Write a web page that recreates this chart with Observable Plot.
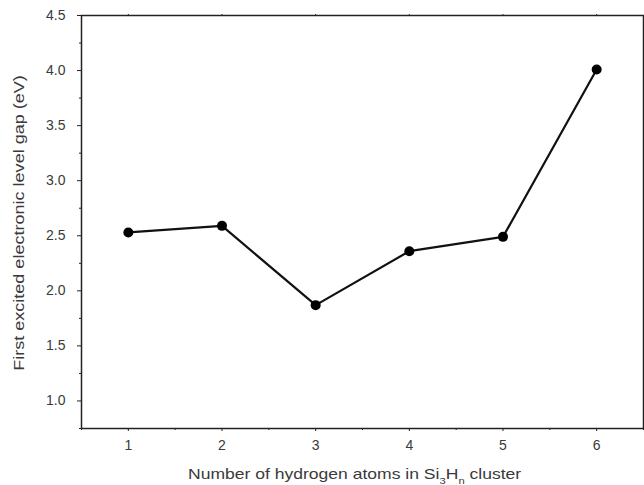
<!DOCTYPE html>
<html><head><meta charset="utf-8">
<script src="https://cdn.jsdelivr.net/npm/d3@7"></script>
<script src="https://cdn.jsdelivr.net/npm/@observablehq/plot@0.6"></script>
<style>
body{margin:0;background:#fff;}
svg{font-family:"Liberation Sans",Arial,Helvetica,sans-serif;}
</style></head>
<body><div id="chart"></div>
<script>
const hydrogen = [1, 2, 3, 4, 5, 6];
const gap = [2.53, 2.59, 1.87, 2.36, 2.49, 4.01];
const yTicks = [1.0, 1.5, 2.0, 2.5, 3.0, 3.5, 4.0, 4.5];
const yMinor = [0.75, 1.25, 1.75, 2.25, 2.75, 3.25, 3.75, 4.25];
const xTicks = [1, 2, 3, 4, 5, 6];
const xMinor = [0.5, 1.5, 2.5, 3.5, 4.5, 5.5, 6.5];
const yLabel = "First excited electronic level gap (eV)";

const data = hydrogen.map((h, i) => ({h, g: gap[i]}));
const ink = "#222";
const txt = "#3a3a3a";

const plot = Plot.plot({
  width: 644, height: 485,
  marginLeft: 81, marginTop: 15, marginRight: 1, marginBottom: 57,
  style: {fontSize: "14px", color: txt, background: "#fff"},
  x: {domain: [0.5, 6.5]},
  y: {domain: [0.75, 4.5]},
  marks: [
    Plot.axisX({ticks: xTicks, tickSize: 3, tickPadding: 9, tickFormat: d => String(d), label: null, stroke: ink, fill: txt}),
    Plot.axisX({ticks: xMinor, tickSize: 2, text: null, label: null, stroke: ink}),
    Plot.axisX({anchor: "top", ticks: xTicks, tickSize: 2, text: null, label: null, stroke: ink}),
    Plot.axisY({ticks: yTicks, tickSize: 4, tickPadding: 12, tickFormat: d => d.toFixed(1), label: null, stroke: ink, fill: txt}),
    Plot.axisY({ticks: yMinor, tickSize: 2, text: null, label: null, stroke: ink}),
    Plot.frame({stroke: ink, strokeWidth: 1.5}),
    Plot.line(data, {x: "h", y: "g", stroke: "#111", strokeWidth: 2.2}),
    Plot.dot(data, {x: "h", y: "g", r: 5, fill: "#000", stroke: "none"})
  ]
});

document.getElementById("chart").append(plot);
const svg = d3.select(plot);

// y-axis label (stretched along its length like the scan)
const yl = svg.append("text")
  .attr("text-anchor", "middle")
  .attr("fill", txt)
  .attr("font-size", 14)
  .text(yLabel);
const yw = yl.node().getComputedTextLength();
yl.attr("transform", `translate(24,223) rotate(-90) scale(${296 / yw},1)`);

// x-axis label with subscripts
const t = svg.append("text")
  .attr("text-anchor", "start")
  .attr("fill", txt)
  .attr("font-size", 14);
t.append("tspan").text("Number of hydrogen atoms in Si");
t.append("tspan").attr("baseline-shift", "sub").attr("font-size", 9).text("3");
t.append("tspan").text("H");
t.append("tspan").attr("baseline-shift", "sub").attr("font-size", 9).text("n");
t.append("tspan").text(" cluster");
const xw = t.node().getBBox().width;
t.attr("transform", `translate(188,479) scale(${334 / xw},1)`);
</script>
</body></html>
